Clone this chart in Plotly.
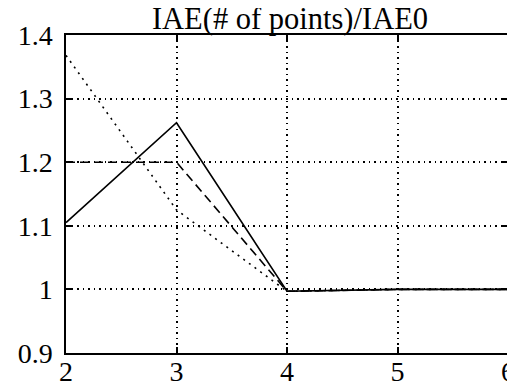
import plotly.graph_objects as go

# number of points
x = [2, 3, 4, 5, 6]

# IAE ratio for the three cases (solid, dashed, dotted)
iae_solid = [1.105, 1.262, 0.997, 1.0, 1.0]
iae_dashed = [1.2, 1.2, 0.997, 1.0, 1.0]
iae_dotted = [1.368, 1.125, 0.997, 1.0, 1.0]

x_ticks = [2, 3, 4, 5, 6]
y_ticks = [0.9, 1.0, 1.1, 1.2, 1.3, 1.4]
y_ticklabels = ["0.9", "1", "1.1", "1.2", "1.3", "1.4"]

fig = go.Figure()
fig.add_trace(go.Scatter(x=x, y=iae_solid, mode="lines",
                         line=dict(color="black", width=1.6)))
fig.add_trace(go.Scatter(x=x, y=iae_dashed, mode="lines",
                         line=dict(color="black", width=1.6, dash="9px,5px")))
fig.add_trace(go.Scatter(x=x, y=iae_dotted, mode="lines",
                         line=dict(color="black", width=1.6, dash="2px,5px")))

font = dict(family="Liberation Serif, Times New Roman, serif", size=28, color="black")

# page body has an 8px margin, so the figure is 8px smaller than the window
W, H = 507, 383

fig.update_layout(
    width=W, height=H,
    margin=dict(l=58, r=7, t=27, b=38),
    paper_bgcolor="white", plot_bgcolor="white",
    showlegend=False,
    font=font,
    title=dict(text="IAE(# of points)/IAE0", x=282 / W, xanchor="center",
               yref="container", y=1 - 21 / H, yanchor="bottom",
               pad=dict(t=0, b=0), font=dict(size=30.5)),
)

axis_style = dict(ticks="inside", ticklen=6, tickcolor="black", tickwidth=1.5,
                  showline=True, linecolor="black", linewidth=1.5, mirror="ticks",
                  showgrid=True, gridcolor="black", gridwidth=1.5,
                  griddash="1.5px,4px", zeroline=False, tickfont=font,
                  automargin=False)

fig.update_xaxes(range=[2, 6], tickvals=x_ticks, ticklabelstandoff=-7, **axis_style)
fig.update_yaxes(range=[0.9, 1.4], tickvals=y_ticks, ticktext=y_ticklabels,
                 ticklabelstandoff=6, **axis_style)

fig.write_html("out.html")
